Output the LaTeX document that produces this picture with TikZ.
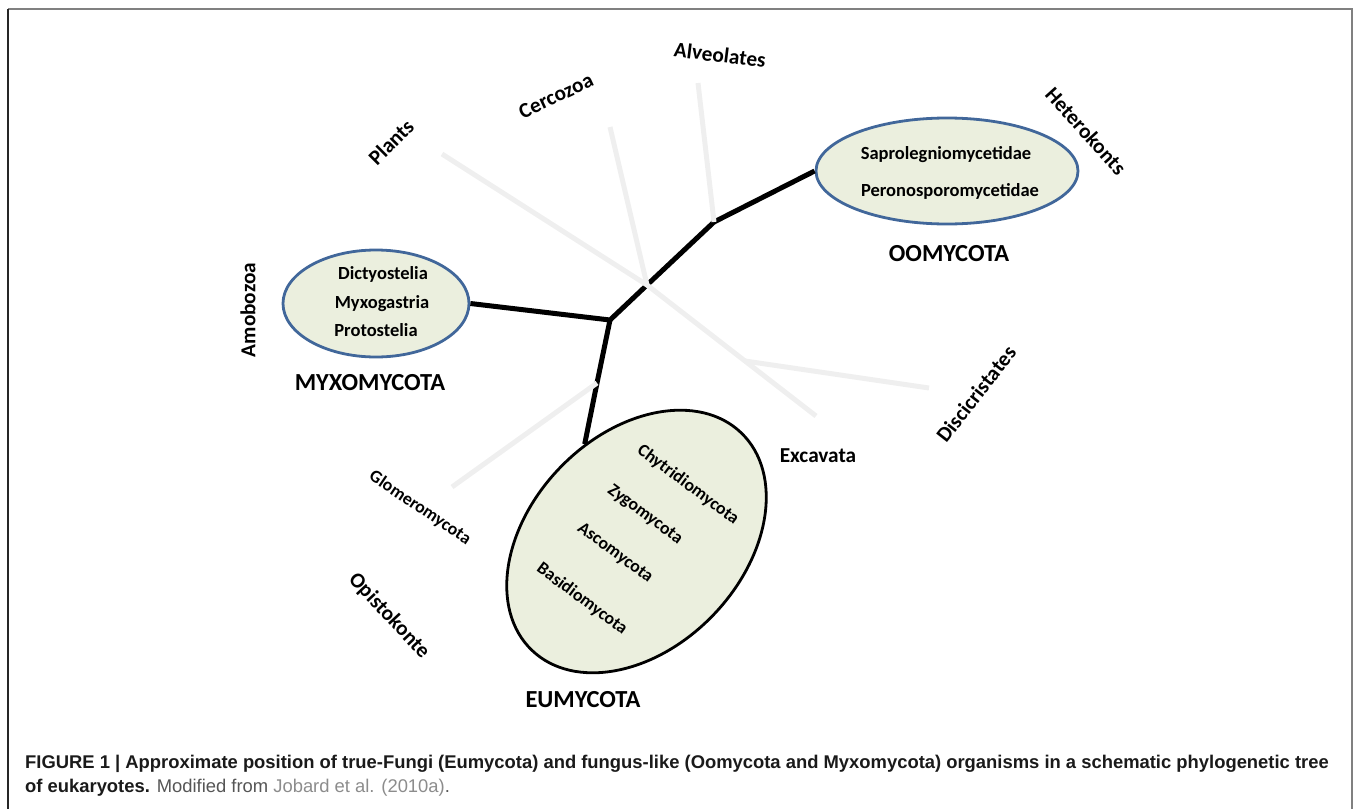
\documentclass[tikz,border=0pt]{standalone}
\usepackage{fontspec}
\setmainfont{Carlito}
\newfontfamily\capfont{Liberation Sans}
\usetikzlibrary{shapes.geometric}
\definecolor{ellfill}{HTML}{EBEFDE}
\definecolor{ellblue}{HTML}{41679A}
\definecolor{branchgray}{HTML}{EFEFEF}
\definecolor{framegray}{HTML}{808080}
\definecolor{captext}{HTML}{1A1A1A}
\definecolor{capgray}{HTML}{555555}
\definecolor{linkgray}{HTML}{8C8C8C}
\begin{document}
\begin{tikzpicture}[x=1pt,y=-1pt,
  clade/.style={ellipse, draw=ellblue, line width=2.8pt, fill=ellfill, inner sep=0pt},
  eumyclade/.style={ellipse, draw=black, line width=2.8pt, fill=ellfill, inner sep=0pt},
  inner/.style={inner sep=0pt, font=\fontsize{18.5}{22}\selectfont\bfseries},
  innerrot/.style={inner sep=0pt, font=\fontsize{17.8}{21}\selectfont\bfseries},
  taxon/.style={inner sep=0pt, font=\fontsize{21.3}{24}\selectfont\bfseries},
  phylum/.style={inner sep=0pt, font=\fontsize{24.5}{28}\selectfont\bfseries},
  graybranch/.style={draw=branchgray, line width=5pt, line join=round},
  blackbranch/.style={draw=black, line width=5pt, line join=round},
  captionline/.style={anchor=base west, inner sep=0pt, text=captext, font=\capfont\fontsize{18.4}{21}\selectfont}
]
\useasboundingbox (0,0) rectangle (1356,808);
% frame
\draw[framegray, line width=1.7pt] (1352,812) -- (1352,9) -- (8,9);
\draw[black!85, line width=1.3pt] (8,9) -- (8,812);

% clades
\node[clade, minimum width=262, minimum height=106] (oomy) at (947,171) {};
\node[clade, minimum width=186, minimum height=107] (myxo) at (376,303.5) {};
\node[eumyclade, minimum width=301.8, minimum height=212.6, rotate=46] (eumy) at (636.5,541.5) {};

% junctions
\coordinate (J1) at (610,320);
\coordinate (X1) at (647,285);
\coordinate (J3) at (714,222);
\coordinate (J4) at (597,383);
\coordinate (X2) at (745,361);
\coordinate (pl) at (442,154);
\coordinate (ce) at (610,127);
\coordinate (al) at (698,83);
\coordinate (ex) at (816,416);
\coordinate (di) at (929,388);
\coordinate (gl) at (452,487);

% black tree
\draw[blackbranch] (myxo.east) -- (J1) -- (X1) -- (J3) -- (oomy.west);
\draw[blackbranch] (J1) -- (J4) -- (eumy.72);

% gray tree
\draw[graybranch] (pl) -- (X1) -- (X2) -- (ex);
\draw[graybranch] (X2) -- (di);
\draw[graybranch] (ce) -- (X1);
\draw[graybranch] (al) -- (J3);
\draw[graybranch] (gl) -- (J4);

% texts inside clades
\node[inner] (sap) at (946,155) {Saprolegniomycetidae};
\node[inner] (per) at (950,191) {Peronosporomycetidae};
\node[inner] (dic) at (383,274) {Dictyostelia};
\node[inner] (myg) at (382,304) {Myxogastria};
\node[inner] (pro) at (376,330) {Protostelia};
\node[innerrot, rotate=-36.5] (chy) at (688,485) {Chytridiomycota};
\node[innerrot, rotate=-36.5] (zyg) at (645,515) {Zygomycota};
\node[innerrot, rotate=-36.5] (asc) at (615,553) {Ascomycota};
\node[innerrot, rotate=-36.5] (bas) at (582,599) {Basidiomycota};
\node[innerrot, rotate=-34] (glo) at (420,508) {Glomeromycota};

% taxon labels
\node[taxon, rotate=-7] (alv) at (720,55) {Alveolates};
\node[taxon, rotate=25] (cer) at (556,96) {Cercozoa};
\node[taxon, rotate=45] (pla) at (391,142) {Plants};
\node[taxon, rotate=-48] (het) at (1086,131) {Heterokonts};
\node[taxon, rotate=90] (amo) at (248,310) {Amobozoa};
\node[taxon] (exc) at (818,456) {Excavata};
\node[taxon, rotate=52] (dis) at (976,394) {Discicristates};
\node[taxon, rotate=-47] (opi) at (389,616) {Opistokonte};

% phylum labels
\node[phylum] (ooml) at (949,254) {OOMYCOTA};
\node[phylum] (myxl) at (370,383) {MYXOMYCOTA};
\node[phylum] (eumyl) at (583,700) {EUMYCOTA};

% caption
\node[captionline] (cap1) at (25,768) {\bfseries FIGURE 1 | Approximate position of true-Fungi (Eumycota) and fungus-like (Oomycota and Myxomycota) organisms in a schematic phylogenetic tree};
\node[captionline] (cap2) at (25,792) {\textbf{of eukaryotes.} \textcolor{capgray}{Modified from} \textcolor{linkgray}{Jobard et al. (2010a)}\textcolor{capgray}{.}};
\end{tikzpicture}
\end{document}
